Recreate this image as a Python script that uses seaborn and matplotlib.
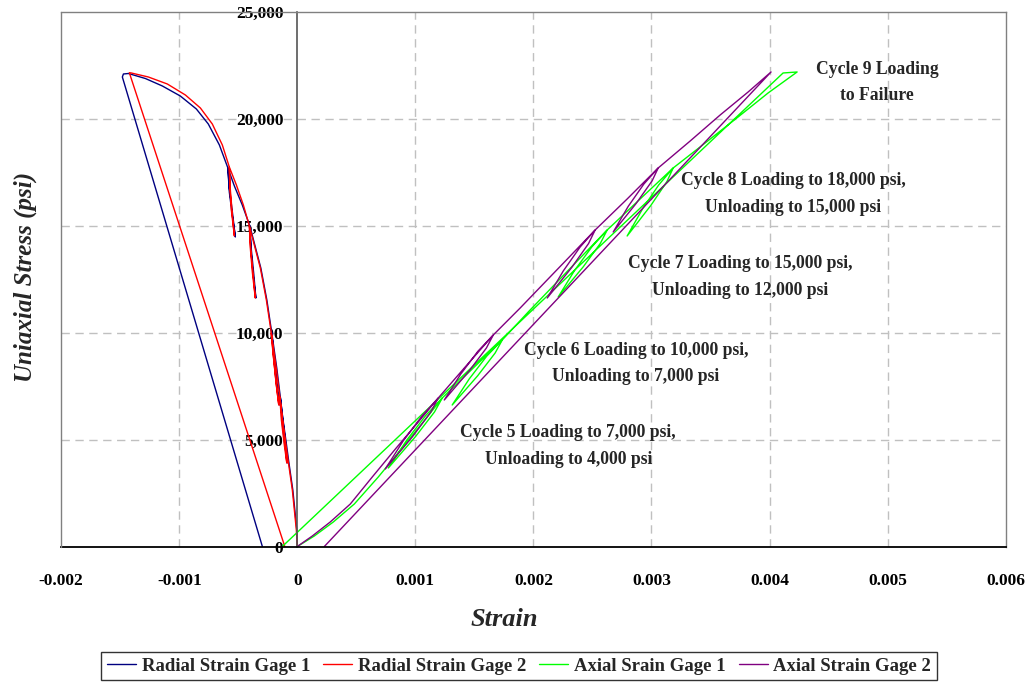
import numpy as np
import matplotlib
matplotlib.use("Agg")
import matplotlib.pyplot as plt
from matplotlib.ticker import FixedLocator, FuncFormatter
import seaborn as sns

# ---- data: strain in microstrain, uniaxial stress in psi ----
radial1_ue = [0, -4, -21, -38, -55, -72, -97, -123, -144,
              -131, -106, -85,
              -102, -127, -144,
              -174, -216,
              -199, -174, -152,
              -178, -203, -216,
              -258, -309, -360, -402,
              -389, -368, -351,
              -377, -394, -402,
              -466, -533, -588,
              -576, -550, -525,
              -550, -576, -588,
              -660, -754, -855, -991, -1143, -1287, -1431, -1473, -1482,
              -296]
radial1_psi = [0, 772, 1708, 2644, 3299, 3955, 4984, 6014, 6997,
               5920, 4750, 3908,
               4984, 6154, 6997,
               8354, 9992,
               8962, 7558, 6622,
               7792, 9103, 9992,
               11536, 13034, 14110, 15000,
               13876, 12706, 11630,
               12847, 13970, 15000,
               15982, 16871, 17714,
               16591, 15467, 14485,
               15655, 16778, 17714,
               18790, 19773, 20475, 21083, 21551, 21902, 22136, 22113, 21973,
               0]

radial2_ue = [0, -8, -25, -42, -59, -76, -102, -127, -148,
              -135, -110, -89,
              -106, -131, -148,
              -178, -220,
              -203, -178, -157,
              -182, -207, -220,
              -262, -313, -364, -406,
              -394, -373, -356,
              -381, -398, -406,
              -457, -516, -576,
              -567, -550, -533,
              -559, -572, -576,
              -635, -720, -821, -948, -1101, -1262, -1406, -1423,
              -106]
radial2_psi = [0, 772, 1708, 2644, 3299, 3955, 4984, 6014, 6997,
               5920, 4750, 3908,
               4984, 6154, 6997,
               8354, 9992,
               8962, 7558, 6622,
               7792, 9103, 9992,
               11536, 13034, 14110, 15000,
               13876, 12706, 11630,
               12847, 13970, 15000,
               15982, 16918, 17761,
               16684, 15514, 14531,
               15748, 16918, 17761,
               18790, 19773, 20522, 21130, 21645, 21973, 22160, 22174,
               0]

axial1_ue = [0, 144, 305, 483, 686, 889, 1067, 1228,
             1162, 1002, 771,
             928, 1088, 1228,
             1482, 1736,
             1676, 1528, 1312,
             1456, 1604, 1736,
             1956, 2176, 2396, 2625,
             2567, 2422, 2210,
             2350, 2496, 2625,
             2904, 3184,
             3131, 2995, 2794,
             2925, 3061, 3184,
             3455, 3734, 3988, 4234,
             4115, -127]
axial1_psi = [0, 491, 1147, 1989, 3253, 4610, 5827, 6950,
              6295, 5148, 3674,
              4984, 6131, 6950,
              8307, 9664,
              9056, 7991, 6622,
              7839, 8904, 9664,
              10975, 12238, 13502, 14812,
              14185, 13088, 11677,
              12931, 14028, 14812,
              16263, 17714,
              17077, 15963, 14531,
              15804, 16918, 17714,
              18884, 20101, 21224, 22207,
              22160, 0]

axial2_ue = [0, 127, 279, 449, 635, 838, 1025, 1194,
             1130, 973, 745,
             899, 1057, 1194,
             1422, 1660,
             1602, 1457, 1245,
             1385, 1530, 1660,
             1888, 2100, 2312, 2523,
             2467, 2325, 2117,
             2254, 2396, 2523,
             2794, 3057,
             3006, 2872, 2676,
             2803, 2936, 3057,
             3328, 3582, 3819, 4013,
             229]
axial2_psi = [0, 491, 1147, 1989, 3253, 4610, 5827, 6950,
              6285, 5120, 3627,
              4956, 6117, 6950,
              8401, 9898,
              9290, 8225, 6856,
              8073, 9138, 9898,
              11162, 12379, 13595, 14812,
              14176, 13062, 11630,
              12903, 14017, 14812,
              16263, 17714,
              17115, 16066, 14719,
              15917, 16965, 17714,
              18977, 20194, 21271, 22207,
              0]

series_names = ["Radial Strain Gage 1", "Radial Strain Gage 2",
                "Axial Srain Gage 1", "Axial Strain Gage 2"]
series_colors = ["#000080", "#FF0000", "#00FF00", "#800080"]

x_ticks = [-0.002, -0.001, 0, 0.001, 0.002, 0.003, 0.004, 0.005, 0.006]
x_tick_labels = ["-0.002", "-0.001", "0", "0.001", "0.002", "0.003",
                 "0.004", "0.005", "0.006"]
y_ticks = [0, 5000, 10000, 15000, 20000, 25000]

cycle_notes = [
    ("Cycle 9 Loading\nto Failure", 0.00491, 21720),
    ("Cycle 8 Loading to 18,000 psi,\nUnloading to 15,000 psi", 0.00420, 16480),
    ("Cycle 7 Loading to 15,000 psi,\nUnloading to 12,000 psi", 0.00375, 12620),
    ("Cycle 6 Loading to 10,000 psi,\nUnloading to 7,000 psi", 0.00287, 8570),
    ("Cycle 5 Loading to 7,000 psi,\nUnloading to 4,000 psi", 0.002295, 4690),
]

# ---- style ----
sns.set_style("white")
plt.rcParams["font.family"] = ["Liberation Serif", "DejaVu Serif"]
plt.rcParams["font.weight"] = "bold"

fig = plt.figure(figsize=(10.26, 6.83), dpi=100)
ax = fig.add_axes([0.05965, 0.19985, 0.92047, 0.78214])

strain_sets = [radial1_ue, radial2_ue, axial1_ue, axial2_ue]
stress_sets = [radial1_psi, radial2_psi, axial1_psi, axial2_psi]
for ue, psi, name, col in zip(strain_sets, stress_sets, series_names, series_colors):
    sns.lineplot(x=np.array(ue) * 1e-6, y=np.array(psi), sort=False,
                 estimator=None, color=col, linewidth=1.0, label=name, ax=ax)

ax.set_xlim(-0.002, 0.006)
ax.set_ylim(0, 25000)

# grid
for gx in x_ticks[1:-1]:
    if gx != 0:
        ax.axvline(gx, color="#c0c0c0", lw=1.0, ls=(0, (6, 4)), zorder=0)
for gy in y_ticks[1:-1]:
    ax.axhline(gy, color="#c0c0c0", lw=1.0, ls=(0, (6, 4)), zorder=0)

# spines: y axis crosses at strain 0, plot-area frame in grey
ax.spines["left"].set_position(("data", 0))
ax.spines["left"].set_color("#555555")
ax.spines["left"].set_linewidth(1.2)
ax.spines["bottom"].set_color("black")
ax.spines["bottom"].set_linewidth(1.3)
for s in ("top", "right"):
    ax.spines[s].set_color("#808080")
    ax.spines[s].set_linewidth(1.0)
ax.plot([0, 0], [0, 1], transform=ax.transAxes, color="#808080", lw=1.0,
        clip_on=False, zorder=3)

ax.xaxis.set_major_locator(FixedLocator(x_ticks))
ax.set_xticklabels(x_tick_labels)
ax.yaxis.set_major_locator(FixedLocator(y_ticks))
ax.yaxis.set_major_formatter(FuncFormatter(lambda v, p: f"{int(v):,}"))
ax.tick_params(axis="x", direction="out", length=6, width=1, pad=13,
               labelsize=12.5, colors="black")
ax.tick_params(axis="y", direction="out", length=6, width=1, pad=4,
               labelsize=12.5, colors="black")
for lab in ax.get_xticklabels() + ax.get_yticklabels():
    lab.set_fontweight("bold")

ax.set_xlabel("")
ax.set_ylabel("")
fig.text(504 / 1026, 1 - 620 / 683, "Strain", ha="center", va="center",
         fontsize=19, fontweight="bold", style="italic")
fig.text(25 / 1026, 1 - 277 / 683, "Uniaxial Stress (psi)", rotation=90,
         ha="center", va="center", fontsize=18, fontweight="bold",
         style="italic")

for txt, tx, ty in cycle_notes:
    ax.text(tx, ty, txt, ha="center", va="center", fontsize=12.7,
            fontweight="bold", linespacing=1.75)

handles, labels = ax.get_legend_handles_labels()
ax.get_legend().remove()
leg = fig.legend(handles, labels, loc="center", ncol=4,
                 bbox_to_anchor=(519 / 1026, 1 - 666 / 683),
                 frameon=True, fancybox=False, edgecolor="black",
                 fontsize=13.5, handlelength=1.55, handletextpad=0.3,
                 columnspacing=0.7, borderpad=0.3)
leg.get_frame().set_linewidth(1.0)
for t in leg.get_texts():
    t.set_fontweight("bold")

fig.savefig("out.png", dpi=100)
